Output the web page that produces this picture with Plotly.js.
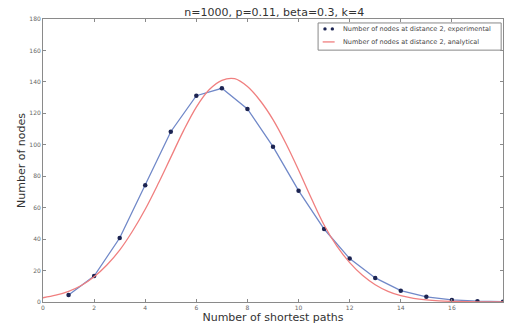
<!DOCTYPE html>
<html>
<head>
<meta charset="utf-8">
<script src="https://cdn.plot.ly/plotly-3.0.1.min.js"></script>
<style>html,body{margin:0;padding:0;background:#fff;}#chart{width:505px;height:329px;}</style>
</head>
<body>
<div id="chart"></div>
<script>
const titleText = "n=1000, p=0.11, beta=0.3, k=4";
const xTitle = "Number of shortest paths";
const yTitle = "Number of nodes";
const expName = "Number of nodes at distance 2, experimental";
const anaName = "Number of nodes at distance 2, analytical";

const expX = [1, 2, 3, 4, 5, 6, 7, 8, 9, 10, 11, 12, 13, 14, 15, 16, 17, 18];
const expY = [4.5, 16.5, 40.7, 74.2, 108.3, 131.2, 135.9, 122.8, 98.8, 70.8, 46.4, 27.6, 15.3, 7.2, 3.3, 1.3, 0.5, 0.2];

const anaX = [0, 0.5, 1, 1.5, 2, 2.5, 3, 3.5, 4, 4.5, 5, 5.5, 6, 6.5, 7, 7.5, 8, 8.5, 9, 9.5, 10, 10.5, 11, 11.5, 12, 12.5, 13, 13.5, 14, 14.5, 15, 15.5, 16, 17, 18];
const anaY = [2.7, 4.3, 6.8, 10.5, 16, 23.5, 33, 45, 59, 75, 92, 109, 124, 135, 141, 142, 137, 128, 116, 101, 84, 66, 49, 35.5, 25, 17, 11, 6.8, 4, 2.3, 1.3, 0.7, 0.4, 0.1, 0];

const expColor = "#7088c8", expMarker = "#1c2452", anaColor = "#f07f7f";

const data = [
  {x: expX, y: expY, name: expName, type: "scatter", mode: "lines+markers",
   line: {color: expColor, width: 1.3},
   marker: {color: expMarker, size: 4.5}},
  {x: anaX, y: anaY, name: anaName, type: "scatter", mode: "lines",
   line: {color: anaColor, width: 1.3, shape: "spline", smoothing: 1}}
];

const axisCommon = {
  showgrid: false, zeroline: false, showline: true, linecolor: "#8a8a8a", linewidth: 1,
  mirror: "ticks", ticks: "inside", ticklen: 3, tickcolor: "#8a8a8a",
  tickfont: {family: "DejaVu Sans", size: 6, color: "#666"}
};

// custom compact legend (matplotlib style)
const legFont = {family: "DejaVu Sans", size: 6.5, color: "#444"};
const shapes = [
  {type: "rect", xref: "paper", yref: "paper", x0: 0.598, x1: 0.996, y0: 0.890, y1: 0.986,
   line: {color: "#888", width: 1}, fillcolor: "#fff", layer: "above"},
  {type: "circle", xref: "paper", yref: "paper", xsizemode: "pixel", ysizemode: "pixel",
   xanchor: 0.613, yanchor: 0.965, x0: -1.7, x1: 1.7, y0: -1.7, y1: 1.7,
   fillcolor: expMarker, line: {color: expMarker, width: 0}, layer: "above"},
  {type: "circle", xref: "paper", yref: "paper", xsizemode: "pixel", ysizemode: "pixel",
   xanchor: 0.629, yanchor: 0.965, x0: -1.7, x1: 1.7, y0: -1.7, y1: 1.7,
   fillcolor: expMarker, line: {color: expMarker, width: 0}, layer: "above"},
  {type: "line", xref: "paper", yref: "paper", x0: 0.608, x1: 0.634, y0: 0.919, y1: 0.919,
   line: {color: anaColor, width: 1.3}, layer: "above"}
];
const annotations = [
  {xref: "paper", yref: "paper", x: 0.647, y: 0.965, xanchor: "left", yanchor: "middle",
   text: expName, showarrow: false, font: legFont},
  {xref: "paper", yref: "paper", x: 0.647, y: 0.919, xanchor: "left", yanchor: "middle",
   text: anaName, showarrow: false, font: legFont}
];

const layout = {
  width: 505, height: 329,
  margin: {l: 43, r: 2, t: 19, b: 27},
  paper_bgcolor: "#fff", plot_bgcolor: "#fff",
  title: {text: titleText, x: 0.543, xanchor: "center", y: 0.975, yanchor: "top",
          font: {family: "DejaVu Sans", size: 11, color: "#333"}},
  xaxis: Object.assign({}, axisCommon, {range: [0, 18], dtick: 2, tick0: 0,
          title: {text: xTitle, standoff: 3, font: {family: "DejaVu Sans", size: 11, color: "#333"}}}),
  yaxis: Object.assign({}, axisCommon, {range: [0, 180], dtick: 20, tick0: 0,
          title: {text: yTitle, standoff: 1, font: {family: "DejaVu Sans", size: 11, color: "#333"}}}),
  showlegend: false,
  shapes: shapes,
  annotations: annotations
};

Plotly.newPlot("chart", data, layout, {staticPlot: true, displayModeBar: false});
</script>
</body>
</html>
